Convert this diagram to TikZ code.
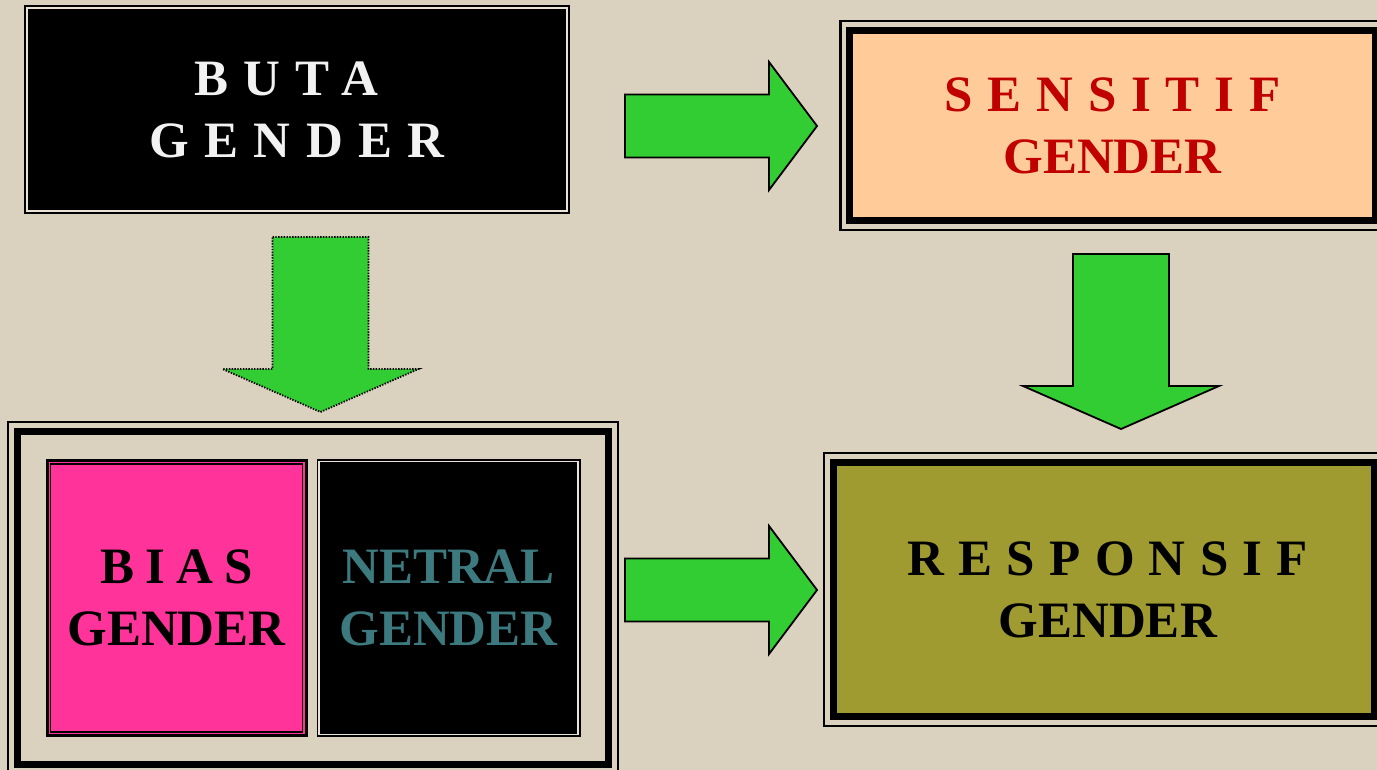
\documentclass[tikz,border=0pt]{standalone}
\usepackage{fontspec}
\setmainfont{Liberation Serif}
\usetikzlibrary{calc}
\definecolor{bg}{HTML}{DAD1BF}
\definecolor{gapc}{HTML}{EAE3D5}
\definecolor{limeg}{RGB}{50,205,50}
\definecolor{peach}{HTML}{FFCC99}
\definecolor{dred}{HTML}{C00000}
\definecolor{hotpink}{HTML}{FF3399}
\definecolor{tealg}{HTML}{3D7A80}
\definecolor{oliveg}{HTML}{9F9B31}
\definecolor{txtw}{HTML}{F2F2F2}
\newcommand\spc[2]{{\addfontfeatures{LetterSpace=#1}#2}}
\newcommand\ringin[3]{\draw[#3] ([xshift=#2pt,yshift=#2pt]#1.south west) rectangle ([xshift=-#2pt,yshift=-#2pt]#1.north east);}
\newcommand\ringout[3]{\draw[#3] ([xshift=-#2pt,yshift=-#2pt]#1.south west) rectangle ([xshift=#2pt,yshift=#2pt]#1.north east);}
\tikzset{
  boxnode/.style={draw=black, inner sep=0pt, align=center},
  boldtext/.style={font={\fontsize{51pt}{62pt}\selectfont\bfseries}},
  thinblack/.style={draw=black, line width=2.4pt},
  lightline/.style={draw=gapc, line width=2pt},
  blockarrow/.style={fill=limeg, draw=black, line width=1.8pt, line join=miter},
  rarrow/.pic={\path[blockarrow] (0,-31.5) -- (144,-31.5) -- (144,-64) -- (192,0) -- (144,64) -- (144,31.5) -- (0,31.5) -- cycle;},
  darrow/.pic={\path[blockarrow] (-48,0) -- (48,0) -- (48,132) -- (98,132) -- (0,175) -- (-98,132) -- (-48,132) -- cycle;}
}
\begin{document}
\begin{tikzpicture}[x=1pt,y=-1pt]
\fill[bg] (0,0) rectangle (1377,770);
\useasboundingbox (0,0) rectangle (1377,770);
\clip (0,0) rectangle (1377,770);

% BUTA GENDER
\node[boxnode, boldtext, fill=black, line width=2.6pt, text=txtw,
      minimum width=544pt, minimum height=207pt] (buta) at (297,109.5)
      {\spc{30}{BUTA}\kern22pt\\\spc{30}{GENDER}};
\ringin{buta}{3.2}{lightline}

% SENSITIF GENDER
\node[boxnode, boldtext, fill=peach, line width=5.5pt, text=dred,
      minimum width=527pt, minimum height=192pt] (sens) at (1112.5,125.5)
      {\spc{29}{SENSITIF}\\GENDER};
\ringout{sens}{5.8}{thinblack}
\ringin{sens}{6}{thinblack}

% group frame
\node[boxnode, line width=5.5pt, minimum width=593pt, minimum height=334.5pt] (grp) at (313,597.75) {};
\ringout{grp}{5.8}{thinblack}
\ringin{grp}{6}{thinblack}

% BIAS GENDER
\node[boxnode, boldtext, fill=hotpink, line width=3pt, text=black,
      minimum width=259pt, minimum height=275pt] (bias) at (176.5,598)
      {\spc{22}{BIAS}\\GENDER};
\ringin{bias}{5}{draw=black, line width=1.7pt}

% NETRAL GENDER
\node[boxnode, boldtext, fill=black, line width=3pt, text=tealg,
      minimum width=261pt, minimum height=275pt] (netral) at (448.5,598)
      {NETRAL\\GENDER};
\ringin{netral}{2.6}{draw=gapc, line width=1.4pt}

% RESPONSIF GENDER
\node[boxnode, fill=oliveg, line width=5.5pt,
      minimum width=543.5pt, minimum height=256pt] (resp) at (1104.25,589.5) {};
\ringout{resp}{6}{thinblack}
\ringin{resp}{6.5}{thinblack}
\node[boldtext, align=center, inner sep=0pt, text=black] (resptext) at ([xshift=3.5pt]resp.center)
      {\spc{28}{RESPONSIF}\\GENDER};

% block arrows
\coordinate (a1) at (625,126);
\coordinate (a2) at (320.5,237);
\coordinate (a3) at (1121,254);
\coordinate (a4) at (625,590);
\pic at (a1) {rarrow};
\pic[dash pattern=on 1.4pt off 1.4pt, line width=1.5pt] at (a2) {darrow};
\pic at (a3) {darrow};
\pic at (a4) {rarrow};
\end{tikzpicture}
\end{document}
